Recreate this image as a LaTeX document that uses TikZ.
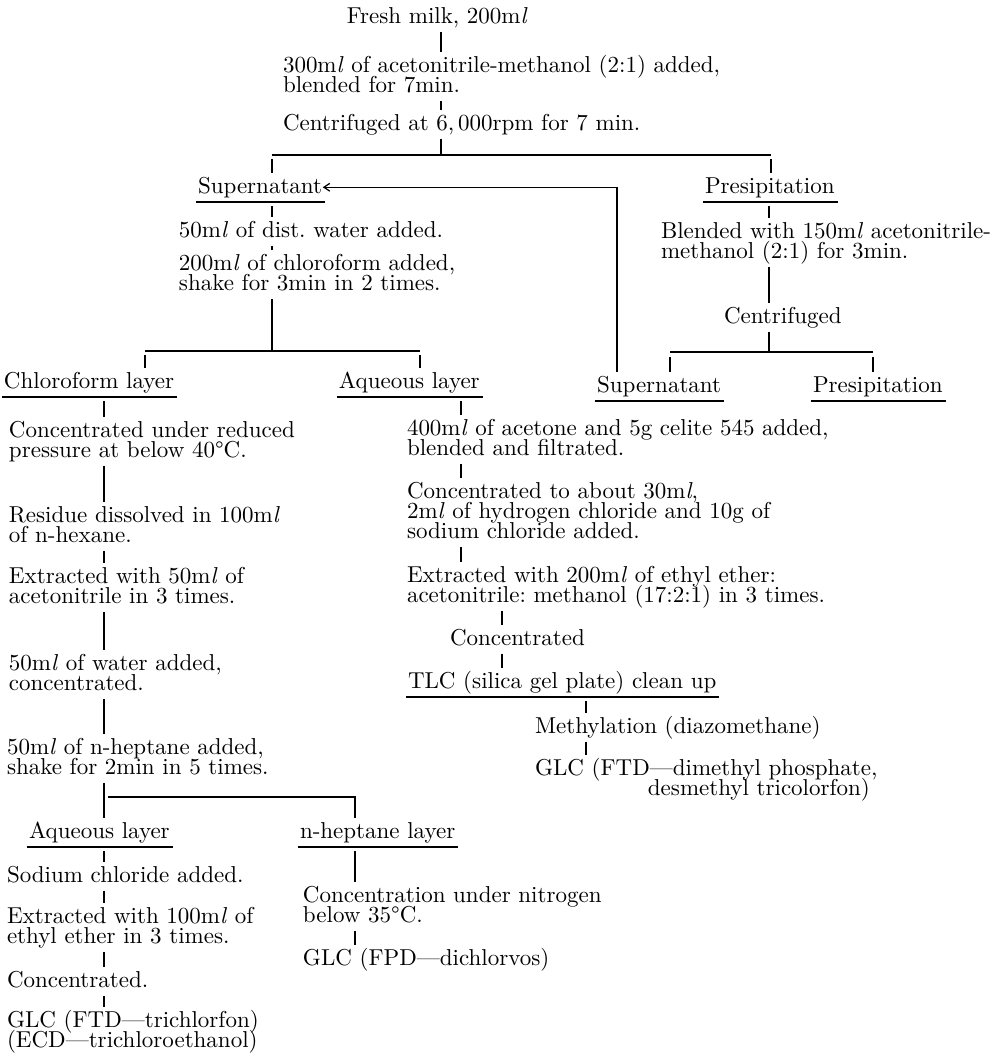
\documentclass[tikz,border=0pt]{standalone}
\usetikzlibrary{arrows.meta}
\newcommand\myhs{\rule{0pt}{7.7pt}}
\newcommand\myds{\rule[-2.64pt]{0pt}{2.64pt}}
\newcommand\mlit{m\textit{l}}
\newcommand\myfont{\fontsize{10.12}{8.9}\selectfont\frenchspacing\lineskiplimit=-20pt\relax}
\begin{document}
\begin{tikzpicture}[x=0.44pt,y=-0.44pt,
  txt/.style={anchor=north west, inner sep=0pt, outer sep=0pt, align=left, font=\myfont},
  ln/.style={line width=0.55pt},
  conn/.style={ln, shorten <=1.2pt, shorten >=1.2pt},
  connU/.style={conn, shorten <=3.2pt},
  arr/.style={-{Straight Barb[length=2.6pt,width=3.4pt]}}]
\useasboundingbox (0,0) rectangle (997,1057);
% column coordinates
\coordinate (xa) at (441,0);
\coordinate (xb) at (272,0);
\coordinate (xc) at (769,0);
\coordinate (xd) at (617,0);
\coordinate (xg) at (104,0);
\coordinate (xh) at (461,0);
\coordinate (xi) at (502,0);
\coordinate (xj) at (586,0);
\coordinate (xk) at (355,0);
% nodes
\node[txt] (t1) at (347,5.5) {\myhs Fresh milk, 200\mlit\myds};
\node[txt] (t2) at (283,54.5) {\myhs 300\mlit{} of acetonitrile-methanol (2:1) added,\\blended for 7min.\myds};
\node[txt] (t3) at (283,112.5) {\myhs Centrifuged at 6,\,000rpm for 7 min.\myds};
\node[txt] (s1) at (198,175.5) {\myhs Supernatant\myds};
\node[txt] (p1) at (705,175.5) {\myhs Presipitation\myds};
\node[txt] (t4) at (179,219.5) {\myhs 50\mlit{} of dist. water added.\myds};
\node[txt] (t5) at (179,252.5) {\myhs 200\mlit{} of chloroform added,\\shake for 3min in 2 times.\myds};
\node[txt] (t6) at (661,220.5) {\myhs Blended with 150\mlit{} acetonitrile-\\methanol (2:1) for 3min.\myds};
\node[txt] (t7) at (724,305.5) {\myhs Centrifuged\myds};
\node[txt] (c1) at (4,370.5) {\myhs Chloroform layer\myds};
\node[txt] (a1) at (339,370.5) {\myhs Aqueous layer\myds};
\node[txt] (s2) at (597,374.5) {\myhs Supernatant\myds};
\node[txt] (p2) at (813,374.5) {\myhs Presipitation\myds};
\node[txt] (t8) at (9,419.5) {\myhs Concentrated under reduced\\pressure at below 40\textdegree C.\myds};
\node[txt] (t9) at (9,504.5) {\myhs Residue dissolved in 100\mlit\\of n-hexane.\myds};
\node[txt] (t10) at (9,565.5) {\myhs Extracted with 50\mlit{} of\\acetonitrile in 3 times.\myds};
\node[txt] (t11) at (9,652.5) {\myhs 50\mlit{} of water added,\\concentrated.\myds};
\node[txt] (t12) at (7,736.5) {\myhs 50\mlit{} of n-heptane added,\\shake for 2min in 5 times.\myds};
\node[txt] (a2) at (29,820.5) {\myhs Aqueous layer\myds};
\node[txt] (n1) at (300,820.5) {\myhs n-heptane layer\myds};
\node[txt] (t13) at (7,864.5) {\myhs Sodium chloride added.\myds};
\node[txt] (t14) at (7,905.5) {\myhs Extracted with 100\mlit{} of\\ethyl ether in 3 times.\myds};
\node[txt] (t15) at (7,969.5) {\myhs Concentrated.\myds};
\node[txt] (t16) at (7,1009.5) {\myhs GLC (FTD---trichlorfon)\\(ECD---trichloroethanol)\myds};
\node[txt] (t17) at (303,884.5) {\myhs Concentration under nitrogen\\below 35\textdegree C.\myds};
\node[txt] (t18) at (303,947.5) {\myhs GLC (FPD---dichlorvos)\myds};
\node[txt] (t19) at (407,417.5) {\myhs 400\mlit{} of acetone and 5g celite 545 added,\\blended and filtrated.\myds};
\node[txt] (t20) at (407,480.5) {\myhs Concentrated to about 30\mlit,\\2\mlit{} of hydrogen chloride and 10g of\\sodium chloride added.\myds};
\node[txt] (t21) at (407,564.5) {\myhs Extracted with 200\mlit{} of ethyl ether:\\acetonitrile: methanol (17:2:1) in 3 times.\myds};
\node[txt] (t22) at (450,627.5) {\myhs Concentrated\myds};
\node[txt] (t23) at (408,670.5) {\myhs TLC (silica gel plate) clean up\myds};
\node[txt] (t24) at (535,715.5) {\myhs Methylation (diazomethane)\myds};
\node[txt] (t25) at (535,757.5) {\myhs GLC (FTD---dimethyl phosphate,\\\hspace*{49.7pt}desmethyl tricolorfon)\myds};
% underlines
\foreach \n in {s1,p1,c1,a1,s2,p2,a2,n1,t23}
  \draw[ln] ([shift={(-0.9pt,-1.3pt)}]\n.south west) -- ([shift={(1.3pt,-1.3pt)}]\n.south east);
% top trunk
\draw[conn] (t1.south -| xa) -- (t2.north -| xa);
\draw[conn] (t2.south -| xa) -- (t3.north -| xa);
\coordinate (j1) at (441,155);
\draw[conn, shorten >=0pt] (t3.south -| xa) -- (j1);
\coordinate (h1l) at (272,155);
\coordinate (h1r) at (771,155);
\draw[ln] (h1l) -- (h1r);
\draw[conn, shorten <=1.8pt] (h1l) -- (s1.north -| h1l);
\draw[conn, shorten <=1.8pt] (h1r) -- (p1.north -| h1r);
% supernatant branch
\draw[connU] (s1.south -| xb) -- (t4.north -| xb);
\draw[conn] (t4.south -| xb) -- (t5.north -| xb);
\coordinate (j2) at (272,351);
\draw[conn, shorten >=0pt] (t5.south -| xb) -- (j2);
\coordinate (h2l) at (145,351);
\coordinate (h2r) at (420,351);
\draw[ln] (h2l) -- (h2r);
\draw[conn, shorten <=1.8pt] (h2l) -- (c1.north -| h2l);
\draw[conn, shorten <=1.8pt] (h2r) -- (a1.north -| h2r);
% precipitation branch
\draw[connU] (p1.south -| xc) -- (t6.north -| xc);
\draw[conn] (t6.south -| xc) -- (t7.north -| xc);
\coordinate (j3) at (769,352);
\draw[conn, shorten >=0pt] (t7.south -| xc) -- (j3);
\coordinate (h3l) at (670,352);
\coordinate (h3r) at (873,352);
\draw[ln] (h3l) -- (h3r);
\draw[conn, shorten <=2.2pt] (h3l) -- (s2.north -| h3l);
\draw[conn, shorten <=2.2pt] (h3r) -- (p2.north -| h3r);
% return arrow
\draw[conn, shorten >=0.3pt, arr] (s2.north -| xd) |- (s1.east);
% chloroform column
\draw[connU] (c1.south -| xg) -- (t8.north -| xg);
\draw[conn] (t8.south -| xg) -- (t9.north -| xg);
\draw[conn] (t9.south -| xg) -- (t10.north -| xg);
\draw[conn] (t10.south -| xg) -- (t11.north -| xg);
\draw[conn] (t11.south -| xg) -- (t12.north -| xg);
\draw[conn] (t12.south -| xg) -- (a2.north -| xg);
\coordinate (h4) at (108,797);
\draw[conn, shorten <=0pt] (h4) -| (n1.north -| xk);
\draw[connU] (a2.south -| xg) -- (t13.north -| xg);
\draw[conn] (t13.south -| xg) -- (t14.north -| xg);
\draw[conn] (t14.south -| xg) -- (t15.north -| xg);
\draw[conn] (t15.south -| xg) -- (t16.north -| xg);
\draw[connU] (n1.south -| xk) -- (t17.north -| xk);
\draw[conn] (t17.south -| xk) -- (t18.north -| xk);
% aqueous column
\draw[connU] (a1.south -| xh) -- (t19.north -| xh);
\draw[conn] (t19.south -| xh) -- (t20.north -| xh);
\draw[conn] (t20.south -| xh) -- (t21.north -| xh);
\draw[conn] (t21.south -| xi) -- (t22.north -| xi);
\draw[conn] (t22.south -| xi) -- (t23.north -| xi);
\draw[connU] (t23.south -| xj) -- (t24.north -| xj);
\draw[conn] (t24.south -| xj) -- (t25.north -| xj);
\end{tikzpicture}
\end{document}
